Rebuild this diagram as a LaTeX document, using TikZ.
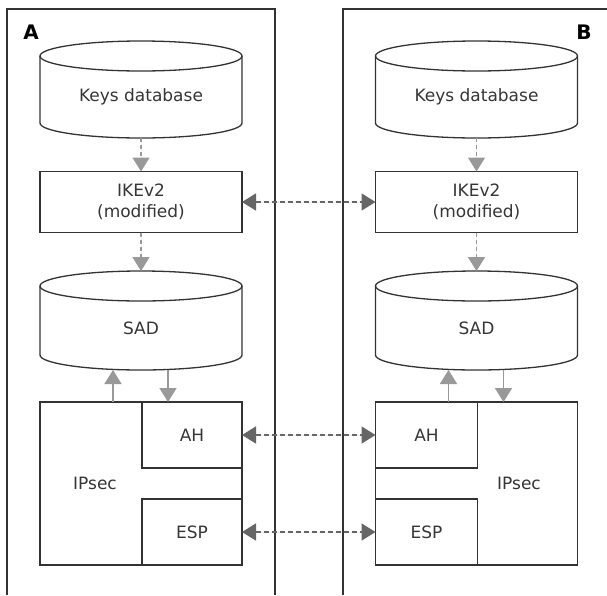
\documentclass[tikz,border=0pt]{standalone}
\usepackage{fontspec}
\setmainfont{DejaVu Sans}
\usetikzlibrary{arrows.meta}
\definecolor{ink}{HTML}{333333}
\definecolor{txt}{HTML}{363636}
\definecolor{flow}{HTML}{999999}
\definecolor{peer}{HTML}{666666}
\begin{document}
\begin{tikzpicture}[x=1pt,y=-1pt,
  every node/.style={font=\fontsize{17}{21}\selectfont, text=txt, inner sep=0pt, outer sep=0pt},
  frame/.style={draw=ink, line width=1.5pt},
  box/.style={draw=ink, line width=1.3pt, rectangle},
  dbnode/.style={rectangle, minimum width=202},
  sidelabel/.style={font=\fontsize{20}{22}\selectfont\bfseries, text=black},
  flowdash/.style={draw=flow, fill=flow, line width=1.6pt, dash pattern=on 4pt off 3pt,
    -{Triangle[length=14pt,width=17pt]}},
  flowsolid/.style={draw=flow, fill=flow, line width=1.6pt,
    -{Triangle[length=14pt,width=17pt]}},
  peerlink/.style={draw=peer, fill=peer, line width=1.6pt, dash pattern=on 5pt off 3pt,
    {Triangle[length=14pt,width=17pt]}-{Triangle[length=14pt,width=17pt]}}]

\useasboundingbox (0,0) rectangle (607,595);
\fill[white] (0,0) rectangle (607,595);

% host frames, open at the bottom
\draw[frame] (7,595) -- (7,9) -- (275,9) -- (275,595);
\draw[frame] (343,595) -- (343,9) -- (607,9);
\node[sidelabel] (labelA) at (31,32) {A};
\node[sidelabel] (labelB) at (584,32) {B};

% databases (node spans from top ellipse centre to bottom of the cylinder)
\node[dbnode, minimum height=82] (keysA) at (141,97) {Keys database};
\node[dbnode, minimum height=82] (keysB) at (476.5,97) {Keys database};
\node[dbnode, minimum height=84] (sadA) at (141,328) {SAD};
\node[dbnode, minimum height=84] (sadB) at (476.5,328) {SAD};
\foreach \n in {keysA,keysB,sadA,sadB} {
  \draw[ink, line width=1.3pt] (\n.north) ellipse [x radius=101pt, y radius=15pt];
  \draw[ink, line width=1.3pt] (\n.north west) -- ([yshift=15pt]\n.south west)
    arc[start angle=180, end angle=360, x radius=101pt, y radius=15pt]
    -- (\n.north east);
}

% key exchange
\node[box, minimum width=202, minimum height=61, align=center] (ikeA) at (141,202) {IKEv2\\(modified)};
\node[box, minimum width=202, minimum height=61, align=center] (ikeB) at (476.5,202) {IKEv2\\(modified)};

% IPsec blocks
\node[box, minimum width=202, minimum height=163] (ipsecA) at (141,483.5) {};
\node[box, minimum width=100, minimum height=66] (ahA) at (192,435) {AH};
\node[box, minimum width=100, minimum height=66] (espA) at (192,532) {ESP};
\node (ipsecAlabel) at (95,483) {IPsec};

\node[box, minimum width=202, minimum height=163] (ipsecB) at (476.5,483.5) {};
\node[box, minimum width=102, minimum height=66] (ahB) at (426.5,435) {AH};
\node[box, minimum width=102, minimum height=66] (espB) at (426.5,532) {ESP};
\node (ipsecBlabel) at (519,483) {IPsec};

% local flows
\foreach \s in {A,B} {
  \draw[flowdash] (keys\s.south) -- (ike\s.north);
  \draw[flowdash] (ike\s.south) -- ([yshift=15pt]sad\s.north);
  \draw[flowsolid] ([xshift=-28pt]ipsec\s.north) -- ([xshift=-28pt]sad\s.south);
  \draw[flowsolid] ([xshift=27pt]sad\s.south) -- ([xshift=27pt]ipsec\s.north);
}

% peer links
\draw[peerlink] (ikeA.east) -- (ikeB.west);
\draw[peerlink] (ahA.east) -- (ahB.west);
\draw[peerlink] (espA.east) -- (espB.west);
\end{tikzpicture}
\end{document}
